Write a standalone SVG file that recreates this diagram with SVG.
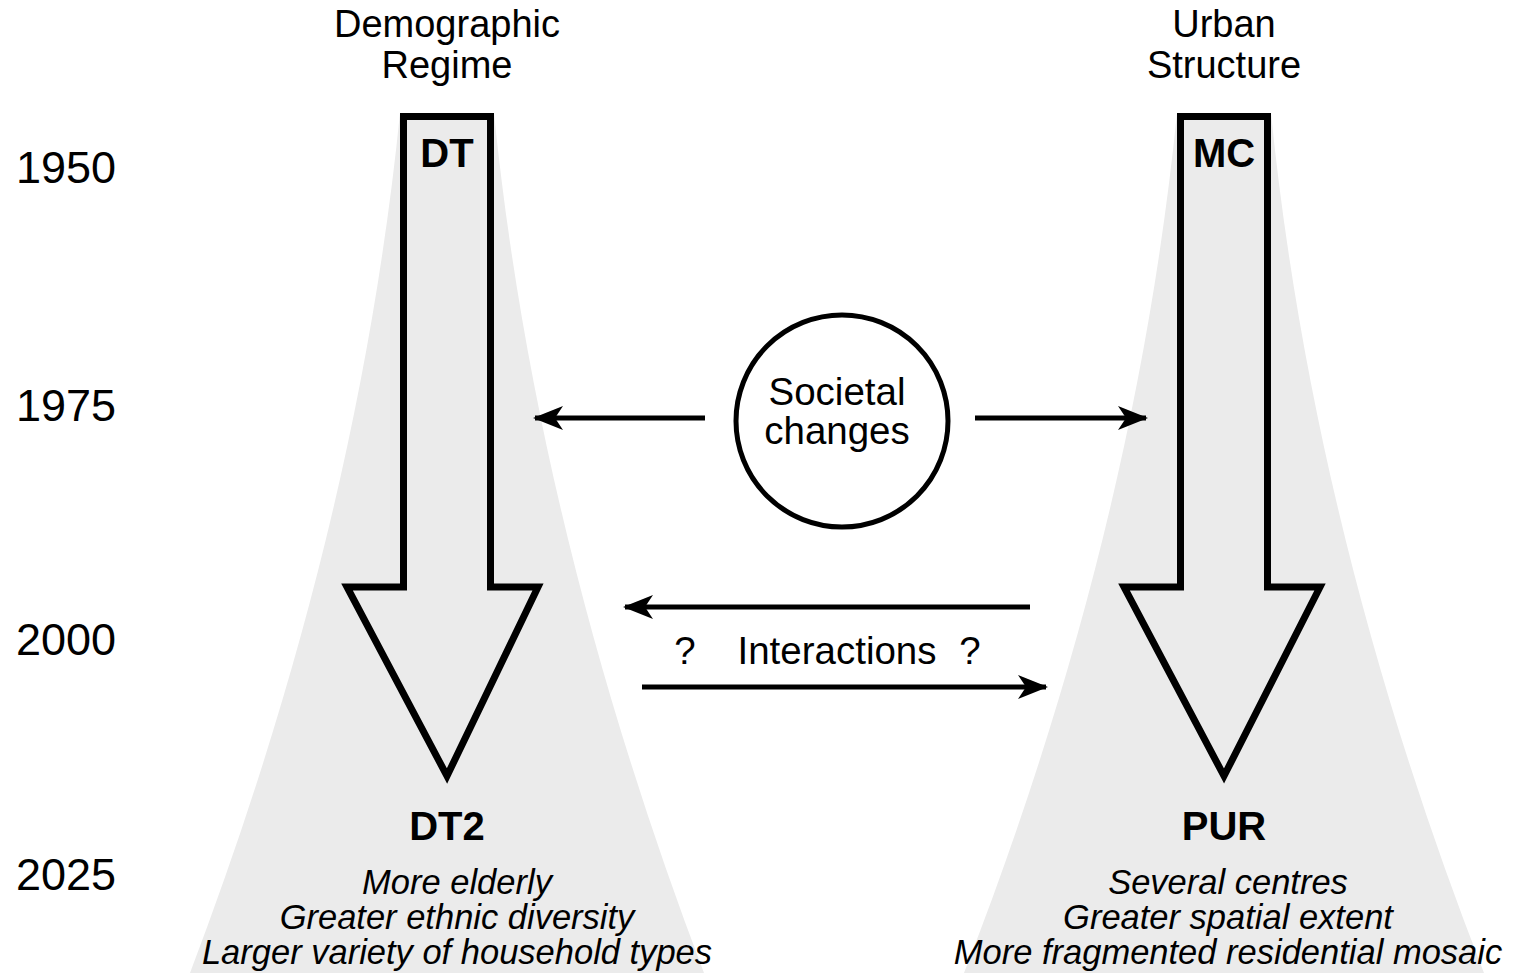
<svg xmlns="http://www.w3.org/2000/svg" width="1514" height="973" viewBox="0 0 1514 973">
<style>
text{font-family:"Liberation Sans",Arial,sans-serif;fill:#000}
.yr{font-size:45px}
.hd{font-size:38px;text-anchor:middle}
.lbl{font-size:40px;font-weight:bold;text-anchor:middle}
.it{font-size:34.5px;font-style:italic;text-anchor:middle}
.mid{font-size:38.5px;text-anchor:middle}
.fan{fill:#ebebeb}
.big{fill:none;stroke:#000;stroke-width:7;stroke-linejoin:miter}
.con{stroke:#000;stroke-width:5;fill:none}
</style>
<defs>
<marker id="ah" viewBox="0 0 30 24" refX="28" refY="12" markerWidth="30" markerHeight="24" markerUnits="userSpaceOnUse" orient="auto">
<path d="M0,0 L30,12 L0,24 L8,12 Z" fill="#000"/>
</marker>
</defs>
<rect width="1514" height="973" fill="#fff"/>
<g id="years">
<text class="yr" x="16" y="183">1950</text>
<text class="yr" x="16" y="421">1975</text>
<text class="yr" x="16" y="655">2000</text>
<text class="yr" x="16" y="890">2025</text>
</g>
<g id="demographic">
<path class="fan" d="M400,113 C371,400 299,686 190,973 L704,973 C595,686 523,400 494,113 Z"/>
<text class="hd" x="447" y="37">Demographic</text>
<text class="hd" x="447" y="78">Regime</text>
<path class="big" d="M403.5,116.5 H490.5 V587 H538 L447,776 L347,587 H403.5 Z"/>
<text class="lbl" x="447" y="840">DT2</text>
<text class="lbl" x="447" y="167">DT</text>
<text class="it" x="457" y="894">More elderly</text>
<text class="it" x="457" y="929">Greater ethnic diversity</text>
<text class="it" x="457" y="964">Larger variety of household types</text>
</g>
<g id="urban">
<path class="fan" d="M1177,113 C1148,400 1076,686 964,973 L1484,973 C1372,686 1300,400 1271,113 Z"/>
<text class="hd" x="1224" y="37">Urban</text>
<text class="hd" x="1224" y="78">Structure</text>
<path class="big" d="M1180.5,116.5 H1267.5 V587 H1320 L1224,776 L1124,587 H1180.5 Z"/>
<text class="lbl" x="1224" y="167">MC</text>
<text class="lbl" x="1224" y="840">PUR</text>
<text class="it" x="1228" y="894">Several centres</text>
<text class="it" x="1228" y="929">Greater spatial extent</text>
<text class="it" x="1228" y="964">More fragmented residential mosaic</text>
</g>
<g id="societal">
<circle cx="842" cy="421" r="106" fill="#fff" stroke="#000" stroke-width="5"/>
<text class="mid" x="837" y="405">Societal</text>
<text class="mid" x="837" y="444">changes</text>
</g>
<g id="interactions-label">
<text class="mid" x="685" y="664">?</text>
<text class="mid" x="837" y="664">Interactions</text>
<text class="mid" x="970" y="664">?</text>
</g>
<g id="connectors">
<line class="con" x1="705" y1="418" x2="535" y2="418" marker-end="url(#ah)"/>
<line class="con" x1="975" y1="418" x2="1146" y2="418" marker-end="url(#ah)"/>
<line class="con" x1="1030" y1="607" x2="625" y2="607" marker-end="url(#ah)"/>
<line class="con" x1="642" y1="687" x2="1046" y2="687" marker-end="url(#ah)"/>
</g>
</svg>
